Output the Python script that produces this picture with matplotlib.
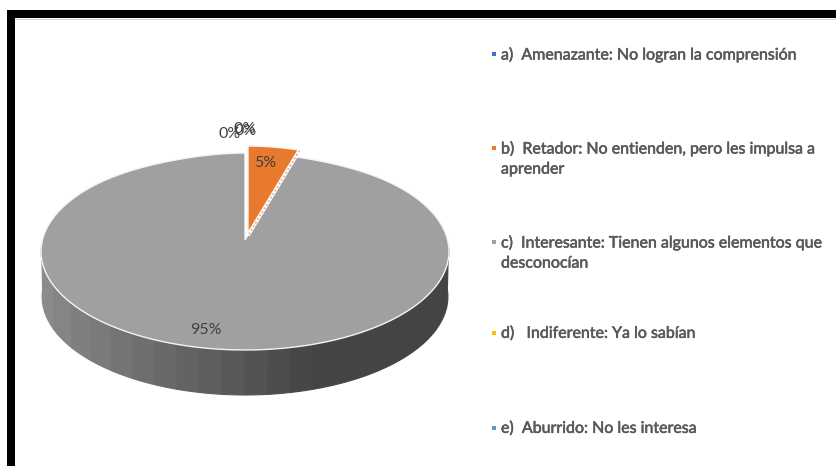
import numpy as np
import matplotlib
matplotlib.use("Agg")
import matplotlib.pyplot as plt
import matplotlib.patheffects as pe

plt.rcParams["font.family"] = ["Lato", "DejaVu Sans"]

# Chart data
labels = [
    "a)  Amenazante: No logran la comprensión",
    "b)  Retador: No entienden, pero les impulsa a\naprender",
    "c)  Interesante: Tienen algunos elementos que\ndesconocían",
    "d)   Indiferente: Ya lo sabían",
    "e)  Aburrido: No les interesa",
]
values = [0, 5, 95, 0, 0]
colors = ["#4472c4", "#e87a2e", "#a0a0a0", "#ffc000", "#5b9bd5"]

# Layout, in pixels of the picture
CX, CY = 245, 240
RX = 204
PERSP = 0.1168
B = -69.1
DEPTH = 45
legend_y = [54, 148, 242, 333, 428]
label_pos = [(230, 134), (265, 163), (206, 330), (245, 129), (246, 131)]
explode = {1: (3, -7)}
TEXT = "#595959"


def project(theta):
    # theta is clockwise from the top of the pie, circle seen in perspective
    u, v = np.sin(theta), np.cos(theta)
    d = 1 + PERSP * v
    squeeze = 1 - 0.16 * np.clip(v, 0, 1) ** 8  # far rim is narrower in the original
    return CX + RX * 0.993 * u * squeeze / d, (CY + B * v) / d


fig = plt.figure(figsize=(8.36, 4.66), dpi=100, facecolor="white")
ax = fig.add_axes([0, 0, 1, 1])
ax.set_xlim(0, 836)
ax.set_ylim(466, 0)
ax.axis("off")

# Black frame on top and left
ax.fill([7, 836, 836, 15, 15, 7], [10, 10, 18, 18, 466, 466], color="black", lw=0)
ax.plot([15, 836], [18.5, 18.5], color="#cccccc", lw=0.6)

# Side of the disc, stepped shades like the original (even steps along x)
n_strips = 20
sx = np.linspace(-1, 1, n_strips + 1)
edges = np.pi + np.arcsin(-sx * 0.999)
for i in range(n_strips):
    t = np.linspace(edges[i], edges[i + 1], 8)
    x, y = project(t)
    mid = (sx[i] + sx[i + 1]) / 2
    shade = min(1.0, (mid + 1) / 1.32)  # reaches the darkest tone right of the middle
    g = 0x8e + (0x44 - 0x8e) * shade
    c = "#%02x%02x%02x" % (int(g), int(g), int(g))
    ax.fill(np.r_[x, x[::-1] * 0.995 + CX * 0.005], np.r_[y, y[::-1] + DEPTH], color=c, lw=0.8, ec=c)

# Top of the pie from the values
total = sum(values)
start = 0.0
for i, val in enumerate(values):
    if val == 0:
        continue
    sweep = 2 * np.pi * val / total
    t = np.linspace(start, start + sweep, 200)
    x, y = project(t)
    dx, dy = explode.get(i, (0, 0))
    px = np.r_[CX + dx, x + dx]
    py = np.r_[CY + dy, y + dy]
    ax.fill(px, py, facecolor=colors[i], edgecolor="#f4f4f4", lw=1.0, zorder=3)
    if i == 1:
        # dotted cut face of the orange slice
        ax.plot([px[0] + 1, px[-1] + 1], [py[0] + 1, py[-1] + 1], color="white", lw=2.5, zorder=4)
        ax.plot([px[0] + 1, px[-1] + 1], [py[0] + 1, py[-1] + 1], color=colors[i], lw=1.2,
                ls=(0, (1, 1.5)), alpha=0.7, zorder=5)
    start += sweep

# Percent labels
for val, (lx, ly) in zip(values, label_pos):
    ax.text(lx, ly, f"{val}%", color="#404040", fontsize=11.5, ha="center", va="center", zorder=6)

# Legend
for lab, col, ly in zip(labels, colors, legend_y):
    ax.scatter([493.5], [ly], marker="s", s=11, color=col, lw=0, zorder=6)
    ax.text(501, ly - 6.5, lab, color=TEXT, fontsize=11.5, ha="left", va="top", linespacing=1.55, zorder=6,
            path_effects=[pe.withStroke(linewidth=0.4, foreground=TEXT)])

fig.savefig("out.png", dpi=100)
